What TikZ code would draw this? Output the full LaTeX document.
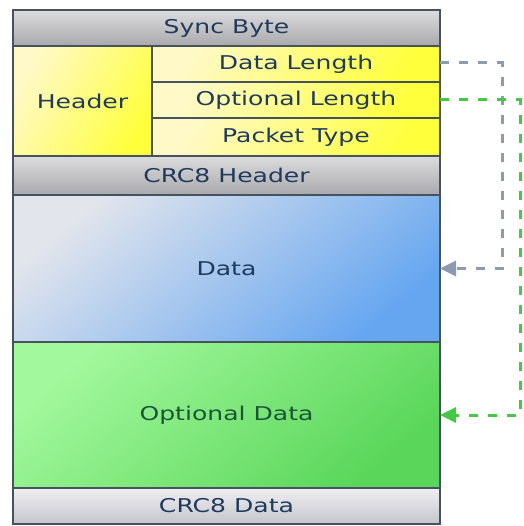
\documentclass[tikz,border=0pt]{standalone}
\usepackage{fontspec}
\setmainfont{DejaVu Sans}[FakeStretch=1.32]
\usepackage{xcolor}
\usetikzlibrary{arrows.meta, positioning}

\definecolor{txtblue}{HTML}{1F3A5A}
\definecolor{txtgreen}{HTML}{1A5538}
\definecolor{edgecol}{HTML}{46535F}
\definecolor{linkgrey}{HTML}{8C9BB0}
\definecolor{linkgreen}{HTML}{46C846}
\definecolor{greytop}{HTML}{DCDCDE}
\definecolor{greybot}{HTML}{A9A9AD}
\definecolor{crctop}{HTML}{F0F0F2}
\definecolor{crcbot}{HTML}{C4C4CC}
\definecolor{yellowlt}{HTML}{FFF9C8}
\definecolor{yellowdk}{HTML}{FFFF3C}
\definecolor{bluelt}{HTML}{E2E5EC}
\definecolor{bluedk}{HTML}{66A6F0}
\definecolor{greenlt}{HTML}{A2F89C}
\definecolor{greendk}{HTML}{5AD65A}

\begin{document}
\begin{tikzpicture}[
    x=1pt, y=1pt,
    field/.style={rectangle, draw=edgecol, line width=1.4pt, outer sep=0pt,
                  inner sep=0pt, anchor=north west, align=center,
                  font=\fontsize{19}{22}\selectfont, text=txtblue},
    greyfield/.style={field, top color=greytop, bottom color=greybot},
    crcfield/.style={field, top color=crctop, bottom color=crcbot},
    yellowfield/.style={field, top color=yellowlt, bottom color=yellowdk,
                        shading angle=60},
    bluefield/.style={field, top color=bluelt, bottom color=bluedk,
                      shading angle=40},
    greenfield/.style={field, top color=greenlt, bottom color=greendk,
                       shading angle=40, text=txtgreen},
    link/.style={dash pattern=on 9pt off 10pt, line width=3pt,
                 -{Triangle[length=16pt, width=15pt]}},
]
    \useasboundingbox (0,0) rectangle (523,-526);

    % Frame
    \node[greyfield, minimum width=427pt, minimum height=36pt] (sync) at (13,-10) {Sync Byte};
    \node[yellowfield, minimum width=139pt, minimum height=110pt] (header) at (sync.south west) {Header};
    \node[yellowfield, minimum width=288pt, minimum height=36pt] (dlen) at (header.north east) {Data Length};
    \node[yellowfield, minimum width=288pt, minimum height=36pt] (olen) at (dlen.south west) {Optional Length};
    \node[yellowfield, minimum width=288pt, minimum height=38pt] (ptype) at (olen.south west) {Packet Type};
    \node[greyfield, minimum width=427pt, minimum height=39pt] (crchead) at (header.south west) {CRC8 Header};

    % Payload
    \node[bluefield, minimum width=427pt, minimum height=147pt] (data) at (crchead.south west) {Data};
    \node[greenfield, minimum width=427pt, minimum height=146pt] (optdata) at (data.south west) {Optional Data};
    \node[crcfield, minimum width=427pt, minimum height=36pt] (crcdata) at (optdata.south west) {CRC8 Data};

    % Length links
    \draw[link, linkgrey] ([yshift=1pt]dlen.east) -- ++(62,0) |- (data.east);
    \draw[link, linkgreen] (olen.east) -- ++(80,0) |- (optdata.east);
\end{tikzpicture}
\end{document}
